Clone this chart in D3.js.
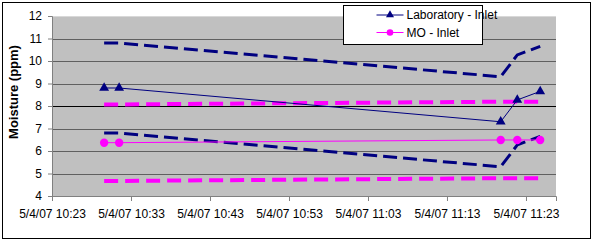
<!DOCTYPE html>
<html>
<head>
<meta charset="utf-8">
<script src="https://cdn.jsdelivr.net/npm/d3@7"></script>
<style>
  body { margin: 0; background: #fff; }
  text { font-family: "Liberation Sans", Arial, sans-serif; }
</style>
</head>
<body>
<script>
// sample times, minutes after 10:00 on 5/4/07
const times = [29.6, 31.5, 79.8, 81.9, 84.8];
const labValues = [8.8, 8.8, 7.3, 8.27, 8.65];
const labUpper = [10.8, 10.8, 9.3, 10.27, 10.65];
const labLower = [6.8, 6.8, 5.3, 6.27, 6.65];
const moValues = [6.37, 6.37, 6.49, 6.49, 6.49];
const moUpper = [8.07, 8.07, 8.19, 8.19, 8.19];
const moLower = [4.67, 4.67, 4.79, 4.79, 4.79];
const xTicks = [23, 33, 43, 53, 63, 73, 83];
const yTicks = [4, 5, 6, 7, 8, 9, 10, 11, 12];

const width = 600;
const height = 241;
const margin = { top: 16, right: 44, bottom: 45, left: 52 };
const plotW = width - margin.left - margin.right;
const plotH = height - margin.top - margin.bottom;

const x = d3.scaleLinear().domain([23, 86.8]).range([0, plotW]);
const y = d3.scaleLinear().domain([4, 12]).range([plotH, 0]);

const svg = d3.select("body").append("svg")
    .attr("width", width)
    .attr("height", height);

// outer chart border
svg.append("rect")
    .attr("x", 2.5).attr("y", 2.5)
    .attr("width", 588).attr("height", 236)
    .attr("fill", "#fff")
    .attr("stroke", "#000")
    .attr("stroke-width", 1);

const chart = svg.append("g")
    .attr("transform", `translate(${margin.left}, ${margin.top})`);

chart.append("rect")
    .attr("width", plotW)
    .attr("height", plotH)
    .attr("fill", "#c0c0c0");

// gridlines
chart.selectAll(".grid")
    .data(yTicks.filter(d => d > 4))
    .enter()
    .append("line")
    .attr("class", "grid")
    .attr("x1", 0).attr("x2", plotW)
    .attr("y1", d => Math.round(y(d)) + 0.5)
    .attr("y2", d => Math.round(y(d)) + 0.5)
    .attr("stroke", d => d === 8 ? "#000" : (d === 12 ? "#d8d8d8" : "#606060"))
    .attr("stroke-width", 1);

const fmtTime = m => `5/4/07 ${10 + Math.floor(m / 60)}:${String(m % 60).padStart(2, "0")}`;

const xAxis = d3.axisBottom(x)
    .tickValues(xTicks)
    .tickSize(5)
    .tickPadding(8)
    .tickFormat(fmtTime);

const xAxisGroup = chart.append("g")
    .attr("transform", `translate(0, ${plotH})`)
    .call(xAxis);
xAxisGroup.selectAll("text")
    .attr("font-size", 12)
    .attr("fill", "#000")
    .attr("font-family", "Liberation Sans, Arial, sans-serif");

const yAxis = d3.axisLeft(y)
    .tickValues(yTicks)
    .tickSize(4)
    .tickPadding(6);

const yAxisGroup = chart.append("g").call(yAxis);
yAxisGroup.selectAll("text")
    .attr("font-size", 12)
    .attr("fill", "#000")
    .attr("font-family", "Liberation Sans, Arial, sans-serif");

[xAxisGroup, yAxisGroup].forEach(g => {
    g.select(".domain").attr("stroke", "#808080");
    g.selectAll(".tick line").attr("stroke", "#808080");
});

const line = d3.line()
    .x(d => x(d[0]))
    .y(d => y(d[1]));
const pts = vals => times.map((t, i) => [t, vals[i]]);

// limit lines
[labUpper, labLower].forEach(vals => {
    chart.append("path")
        .attr("d", line(pts(vals)))
        .attr("fill", "none")
        .attr("stroke", "#000080")
        .attr("stroke-width", 3)
        .attr("stroke-dasharray", "14,6");
});
[moUpper, moLower].forEach(vals => {
    chart.append("path")
        .attr("d", line(pts(vals)))
        .attr("fill", "none")
        .attr("stroke", "#ff00ff")
        .attr("stroke-width", 4)
        .attr("stroke-dasharray", "14,7");
});

// measured series
chart.append("path")
    .attr("d", line(pts(labValues)))
    .attr("fill", "none")
    .attr("stroke", "#000080")
    .attr("stroke-width", 1);
chart.append("path")
    .attr("d", line(pts(moValues)))
    .attr("fill", "none")
    .attr("stroke", "#ff00ff")
    .attr("stroke-width", 1);

const tri = d3.symbol().type(d3.symbolTriangle).size(42);
chart.selectAll(".lab")
    .data(pts(labValues))
    .enter()
    .append("path")
    .attr("class", "lab")
    .attr("d", tri)
    .attr("transform", d => `translate(${x(d[0])}, ${y(d[1])})`)
    .attr("fill", "#000080");

chart.selectAll(".mo")
    .data(pts(moValues))
    .enter()
    .append("circle")
    .attr("class", "mo")
    .attr("cx", d => x(d[0]))
    .attr("cy", d => y(d[1]))
    .attr("r", 4.2)
    .attr("fill", "#ff00ff");

// axis title
svg.append("text")
    .attr("transform", "translate(18, 92) rotate(-90)")
    .attr("text-anchor", "middle")
    .attr("font-size", 13)
    .attr("font-weight", "bold")
    .text("Moisture (ppm)");

// legend
const legend = svg.append("g").attr("transform", "translate(343.5, 5.5)");
legend.append("rect")
    .attr("width", 139)
    .attr("height", 39)
    .attr("fill", "#fff")
    .attr("stroke", "#000");

const legendItems = [
    { name: "Laboratory - Inlet", color: "#000080", shape: "tri" },
    { name: "MO - Inlet", color: "#ff00ff", shape: "circle" }
];
legendItems.forEach((item, i) => {
    const g = legend.append("g").attr("transform", `translate(0, ${9.5 + i * 17.5})`);
    g.append("line")
        .attr("x1", 33).attr("x2", 60)
        .attr("stroke", item.color)
        .attr("stroke-width", 1);
    if (item.shape === "tri") {
        g.append("path")
            .attr("d", d3.symbol().type(d3.symbolTriangle).size(28))
            .attr("transform", "translate(46.5, 0)")
            .attr("fill", item.color);
    } else {
        g.append("circle")
            .attr("cx", 46.5)
            .attr("r", 3.3)
            .attr("fill", item.color);
    }
    g.append("text")
        .attr("x", 63)
        .attr("y", 4)
        .attr("font-size", 12)
        .text(item.name);
});
</script>
</body>
</html>
